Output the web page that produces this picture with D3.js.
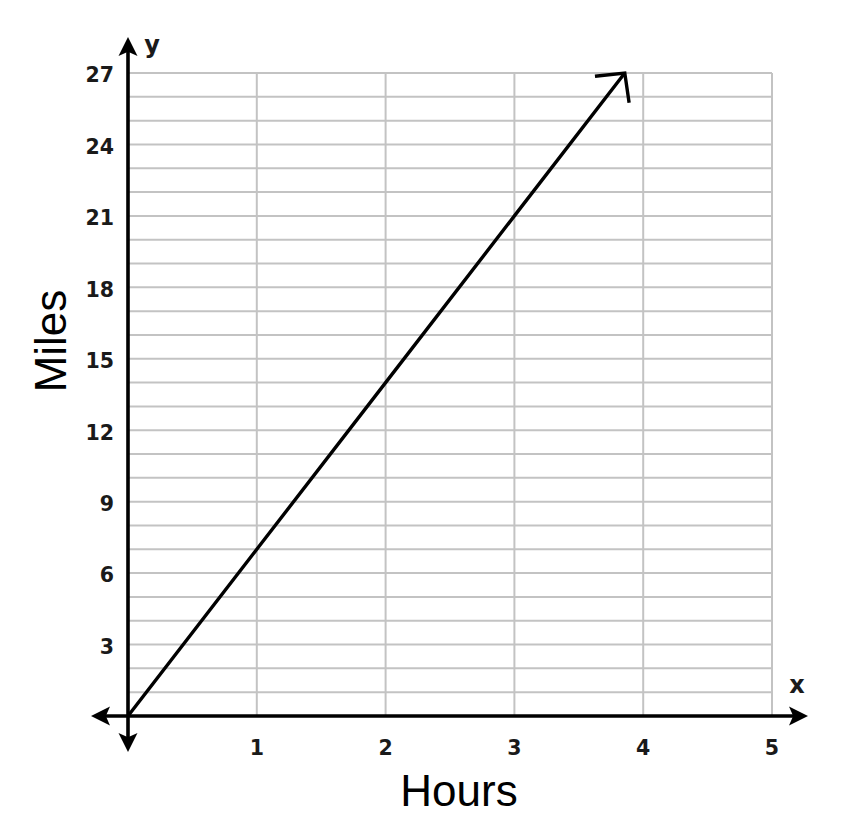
<!DOCTYPE html>
<html>
<head>
<meta charset="utf-8">
<script src="https://cdn.jsdelivr.net/npm/d3@7"></script>
<style>
  html, body { margin: 0; padding: 0; background: #fff; }
  svg { display: block; }
</style>
</head>
<body>
<svg id="chart" width="868" height="814"></svg>
<script>
// ---- data ----
const hours = [0, 1, 2, 3, 3.857];
const miles = [0, 7, 14, 21, 27];
const xTicks = [1, 2, 3, 4, 5];
const yTicks = [3, 6, 9, 12, 15, 18, 21, 24, 27];
const yGrid = d3.range(1, 28);
const xGrid = [1, 2, 3, 4, 5];
const xAxisTitle = "Hours";
const yAxisTitle = "Miles";

const svg = d3.select("#chart");
const x = d3.scaleLinear().domain([0, 5]).range([128, 772]);
const y = d3.scaleLinear().domain([0, 27]).range([716, 73]);

const gridColor = "#c3c3c3";

// horizontal grid
svg.append("g").selectAll("line").data(yGrid).join("line")
  .attr("x1", x(0)).attr("x2", x(5))
  .attr("y1", d => y(d)).attr("y2", d => y(d))
  .attr("stroke", gridColor).attr("stroke-width", 2);

// vertical grid
svg.append("g").selectAll("line").data(xGrid).join("line")
  .attr("x1", d => x(d)).attr("x2", d => x(d))
  .attr("y1", y(27)).attr("y2", y(0))
  .attr("stroke", gridColor).attr("stroke-width", 2);

// axes
const axisW = 3.6;
svg.append("line").attr("x1", 100).attr("x2", 798)
  .attr("y1", y(0)).attr("y2", y(0))
  .attr("stroke", "#000").attr("stroke-width", axisW);
svg.append("line").attr("x1", x(0)).attr("x2", x(0))
  .attr("y1", 48).attr("y2", 742)
  .attr("stroke", "#000").attr("stroke-width", axisW);

// axis arrowheads (filled)
function tri(tipX, tipY, dx, dy, len, half) {
  const bx = tipX - dx * len, by = tipY - dy * len;
  const px = -dy, py = dx;
  const nx = tipX - dx * len * 0.78, ny = tipY - dy * len * 0.78;
  return `M${tipX},${tipY}L${bx + px * half},${by + py * half}L${nx},${ny}L${bx - px * half},${by - py * half}Z`;
}
const arrows = [
  [91, y(0), -1, 0],
  [808, y(0), 1, 0],
  [x(0), 37, 0, -1],
  [x(0), 752, 0, 1]
];
svg.append("g").selectAll("path").data(arrows).join("path")
  .attr("d", d => tri(d[0], d[1], d[2], d[3], 19, 9.5))
  .attr("fill", "#000");

// tick labels
const tickFont = "'DejaVu Sans', Verdana, sans-serif";
svg.append("g").selectAll("text").data(yTicks).join("text")
  .attr("x", 114).attr("y", d => y(d) + 2)
  .attr("dy", "0.36em")
  .attr("text-anchor", "end")
  .attr("font-family", tickFont).attr("font-weight", "bold")
  .attr("font-size", 20.5).attr("fill", "#1a1a1a")
  .text(d => d);
svg.append("g").selectAll("text").data(xTicks).join("text")
  .attr("x", d => x(d)).attr("y", 748)
  .attr("dy", "0.36em")
  .attr("text-anchor", "middle")
  .attr("font-family", tickFont).attr("font-weight", "bold")
  .attr("font-size", 20.5).attr("fill", "#1a1a1a")
  .text(d => d);

// axis letters
svg.append("text").attr("x", 797).attr("y", 693)
  .attr("text-anchor", "middle")
  .attr("font-family", tickFont).attr("font-weight", "bold")
  .attr("font-size", 24).attr("fill", "#1a1a1a").text("x");
svg.append("text").attr("x", 152).attr("y", 53)
  .attr("text-anchor", "middle")
  .attr("font-family", tickFont).attr("font-weight", "bold")
  .attr("font-size", 24).attr("fill", "#1a1a1a").text("y");

// axis titles
svg.append("text").attr("x", 459).attr("y", 806)
  .attr("text-anchor", "middle")
  .attr("font-family", "'Liberation Sans', Arial, sans-serif")
  .attr("font-size", 44).attr("fill", "#000").text(xAxisTitle);
svg.append("text")
  .attr("transform", "translate(66,341) rotate(-90)")
  .attr("text-anchor", "middle")
  .attr("font-family", "'Liberation Sans', Arial, sans-serif")
  .attr("font-size", 44).attr("fill", "#000").text(yAxisTitle);

// data line
const pts = hours.map((h, i) => [x(h), y(miles[i])]);
svg.append("path")
  .attr("d", d3.line()(pts))
  .attr("fill", "none").attr("stroke", "#000").attr("stroke-width", 3.4);

// open arrowhead at end of line
const tip = pts[pts.length - 1];
const prev = pts[0];
const ang = Math.atan2(prev[1] - tip[1], prev[0] - tip[0]);
const L = 30, th = 46 * Math.PI / 180;
const l1 = [tip[0] + L * Math.cos(ang + th), tip[1] + L * Math.sin(ang + th)];
const l2 = [tip[0] + L * Math.cos(ang - th), tip[1] + L * Math.sin(ang - th)];
svg.append("path")
  .attr("d", `M${l1[0]},${l1[1]}L${tip[0]},${tip[1]}L${l2[0]},${l2[1]}`)
  .attr("fill", "none").attr("stroke", "#000").attr("stroke-width", 3.4)
  .attr("stroke-linejoin", "miter");
</script>
</body>
</html>
